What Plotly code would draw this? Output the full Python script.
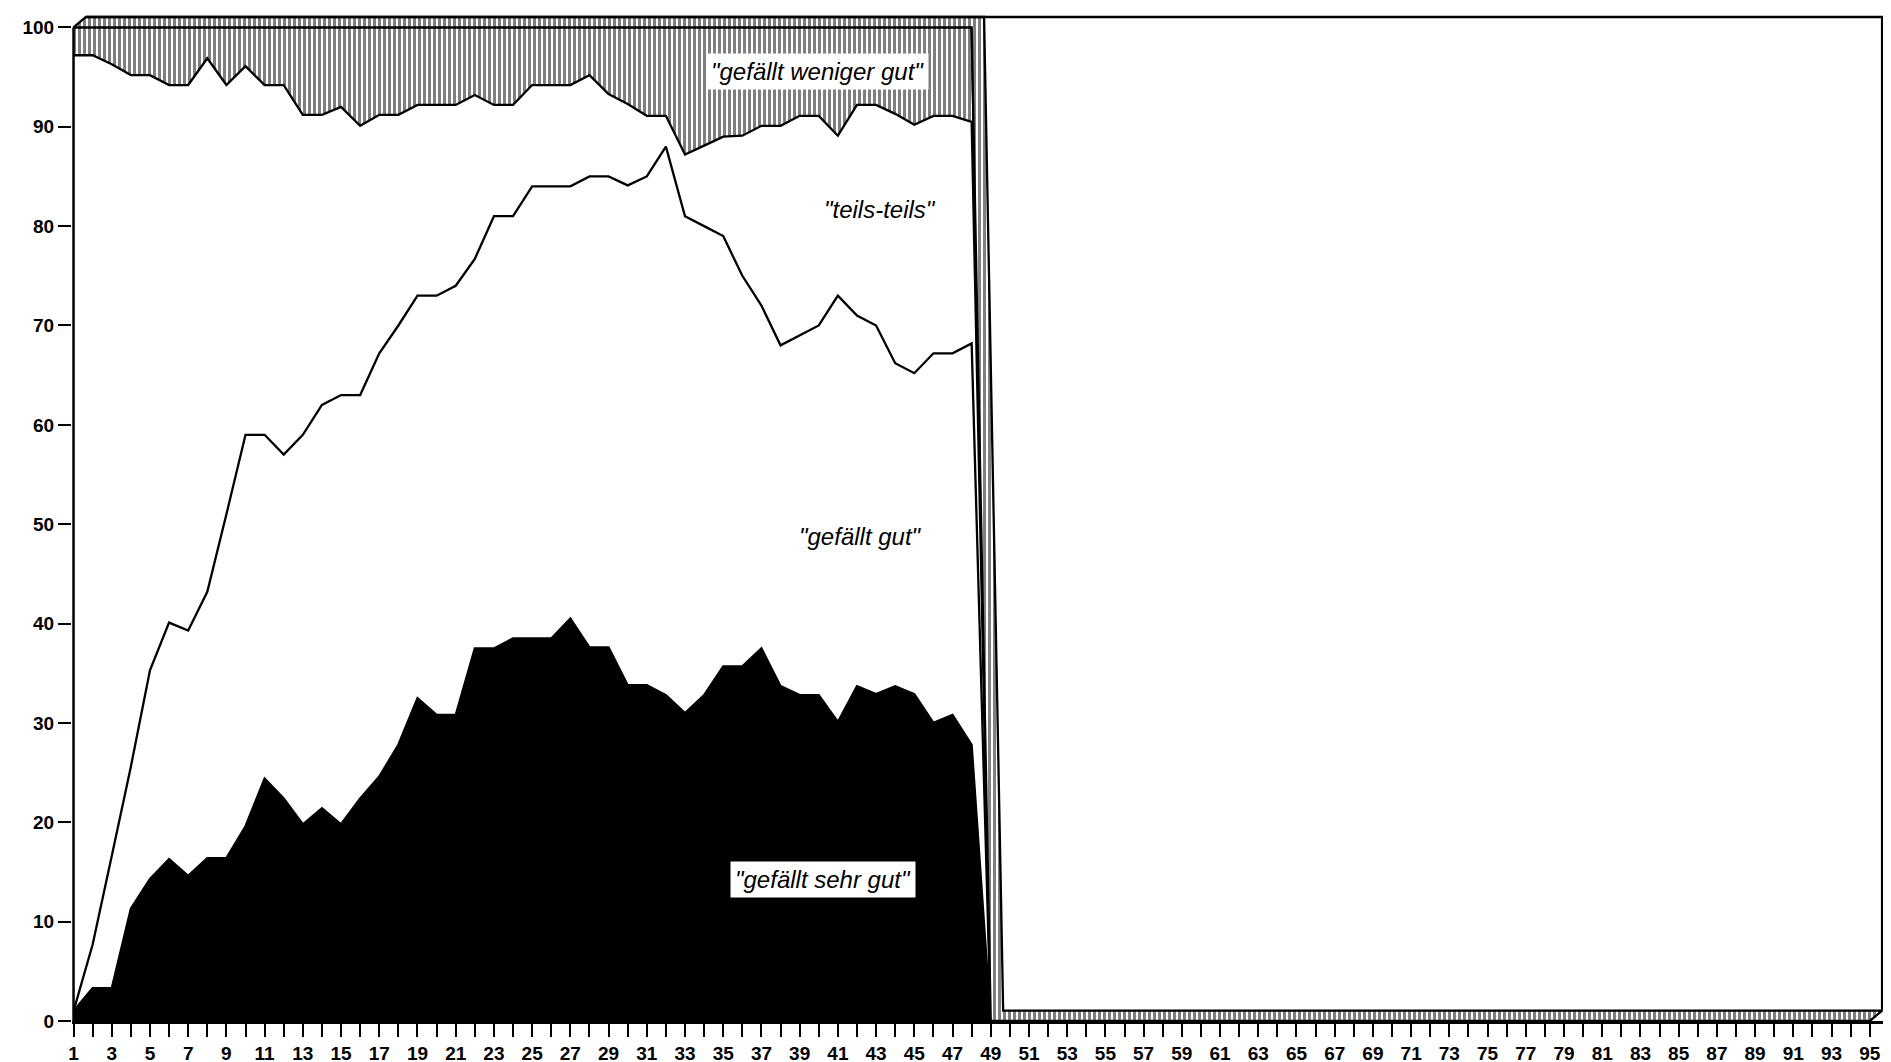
import plotly.graph_objects as go

# ---------------- data (percent of respondents per wave) ----------------
waves = list(range(1, 96))  # survey waves 1..95 (only 1..48 carry data)

sehr_gut = [1.0, 3.3, 3.3, 11.3, 14.3, 16.3, 14.6, 16.4, 16.4, 19.6,
            24.4, 22.4, 19.8, 21.4, 19.8, 22.4, 24.6, 27.8, 32.5, 30.8,
            30.8, 37.5, 37.5, 38.5, 38.5, 38.5, 40.5, 37.6, 37.6, 33.8,
            33.8, 32.8, 31.0, 32.8, 35.7, 35.7, 37.5, 33.7, 32.8, 32.8,
            30.1, 33.7, 32.9, 33.7, 32.9, 30.0, 30.8, 27.8]
gut = [0.0, 4.4, 13.3, 14.3, 21.0, 23.8, 24.7, 26.8, 34.6, 39.4,
       34.6, 34.6, 39.2, 40.6, 43.2, 40.6, 42.6, 42.2, 40.5, 42.2,
       43.2, 39.2, 43.5, 42.5, 45.5, 45.5, 43.5, 47.4, 47.4, 50.3,
       51.2, 55.2, 50.0, 47.2, 43.3, 39.3, 34.5, 34.3, 36.2, 37.2,
       42.9, 37.3, 37.1, 32.5, 32.3, 37.2, 36.4, 40.4]
teils = [96.2, 89.5, 79.7, 69.6, 59.9, 54.1, 54.9, 53.7, 43.2, 37.1,
         35.2, 37.2, 32.2, 29.2, 29.0, 27.1, 24.0, 21.2, 19.2, 19.2,
         18.2, 16.5, 11.2, 11.2, 10.2, 10.2, 10.2, 10.2, 8.3, 8.2,
         6.1, 3.1, 6.2, 8.1, 10.0, 14.1, 18.1, 22.1, 22.1, 21.1,
         16.1, 21.2, 22.2, 25.1, 25.0, 23.9, 23.9, 22.3]
weniger = [2.8, 2.8, 3.7, 4.8, 4.8, 5.8, 5.8, 3.1, 5.8, 3.9,
           5.8, 5.8, 8.8, 8.8, 8.0, 9.9, 8.8, 8.8, 7.8, 7.8,
           7.8, 6.8, 7.8, 7.8, 5.8, 5.8, 5.8, 4.8, 6.7, 7.7,
           8.9, 8.9, 12.8, 11.9, 11.0, 10.9, 9.9, 9.9, 8.9, 8.9,
           10.9, 7.8, 7.8, 8.7, 9.8, 8.9, 8.9, 9.5]

empty_tail = [0.0] * (len(waves) - len(sehr_gut))  # waves 49..95: drawn as 0

series = [
    ("gefällt sehr gut", sehr_gut + empty_tail),
    ("gefällt gut", gut + empty_tail),
    ("teils-teils", teils + empty_tail),
    ("gefällt weniger gut", weniger + empty_tail),
]

x_ticktext = [str(w) if w % 2 == 1 else "" for w in waves]
y_tickvals = list(range(0, 101, 10))

# ---------------- style ----------------
DEPTH_X, DEPTH_Y = 0.65, 1.05      # pseudo-3D depth of the area chart
LW = 2.3
hatch = dict(shape="|", fgcolor="black", bgcolor="white", size=5, solidity=0.6)
fills = ["black", "white", "white", None]

fig = go.Figure()
for (name, vals), fc in zip(series, fills):
    kw = dict(x=waves, y=vals, name=name, stackgroup="stack", mode="lines",
              line=dict(color="black", width=LW), hoverinfo="skip",
              showlegend=False)
    if fc is None:
        kw["fillcolor"] = "white"
        kw["fillpattern"] = hatch
    else:
        kw["fillcolor"] = fc
    fig.add_trace(go.Scatter(**kw))

# top face of the 3D stack (hatched band along the upper edge)
top = [sum(v) for v in zip(*[s[1] for s in series])]
face_x = waves + [w + DEPTH_X for w in reversed(waves)] + [waves[0]]
face_y = top + [t + DEPTH_Y for t in reversed(top)] + [top[0]]
fig.add_trace(go.Scatter(x=face_x, y=face_y, fill="toself", mode="lines",
                         line=dict(color="black", width=LW),
                         fillcolor="white", fillpattern=hatch,
                         hoverinfo="skip", showlegend=False))

# back wall outline (top and right edge)
x_back0 = waves[0] + DEPTH_X
x_back1 = waves[-1] + DEPTH_X
y_back_top = max(top) + DEPTH_Y
fig.add_shape(type="path", xref="x", yref="y",
              path=f"M {x_back0} {y_back_top} L {x_back1} {y_back_top} L {x_back1} {DEPTH_Y}",
              line=dict(color="black", width=2.5))
# front left edge (value axis line)
fig.add_shape(type="line", xref="x", yref="y", x0=waves[0], x1=waves[0],
              y0=0, y1=max(top), line=dict(color="black", width=2.5))

# labels
lab_font = dict(family="Liberation Sans, Arial, sans-serif", size=24,
                color="black", style="italic")
labels = [
    ('"gefällt weniger gut"', 39.95, 95.6, True),
    ('"teils-teils"', 43.2, 81.7, False),
    ('"gefällt gut"', 42.2, 48.8, False),
    ('"gefällt sehr gut"', 40.2, 14.2, True),
]
for txt, lx, ly, boxed in labels:
    fig.add_annotation(x=lx, y=ly, xref="x", yref="y", text=txt,
                       showarrow=False, font=lab_font,
                       bgcolor="white" if boxed else "rgba(0,0,0,0)",
                       borderpad=4)

tick_font = dict(family="Liberation Sans, Arial, sans-serif", size=19,
                 color="black", weight="bold")

fig.update_layout(
    width=1891, height=1062,
    margin=dict(l=63.5, r=12.5, t=6, b=44.5),
    paper_bgcolor="white", plot_bgcolor="white",
    showlegend=False,
    xaxis=dict(range=[0.92, 95.85], tickmode="array", tickvals=waves,
               ticktext=x_ticktext, ticks="outside", ticklen=13,
               tickwidth=2, tickcolor="black", showgrid=False,
               zeroline=False, showline=True, linecolor="black",
               linewidth=2.5, tickfont=tick_font, fixedrange=True),
    yaxis=dict(range=[0, 101.35], tickmode="array", tickvals=y_tickvals,
               ticks="outside", ticklen=13, tickwidth=2, tickcolor="black",
               showgrid=False, zeroline=False, showline=False,
               tickfont=tick_font, fixedrange=True),
)

fig.write_html("out.html")
